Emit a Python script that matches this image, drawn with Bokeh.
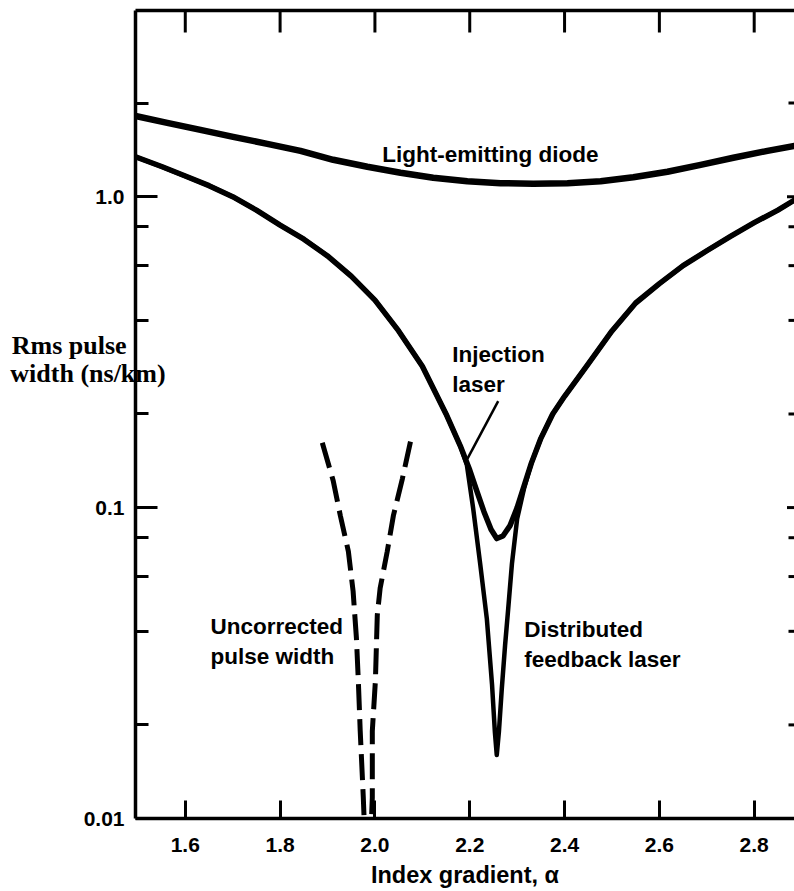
import math
from bokeh.plotting import figure
from bokeh.models import Range1d, FixedTicker, LinearAxis, NumeralTickFormatter
from bokeh.core.properties import value
from bokeh.embed import file_html
from bokeh.resources import INLINE

# ---------------- data ----------------
x_ticks = [1.6, 1.8, 2.0, 2.2, 2.4, 2.6, 2.8]
y_major = [0.01, 0.1, 1.0]
y_minor = [0.02, 0.04, 0.06, 0.08, 0.2, 0.4, 0.6, 0.8, 2.0]
y_labels = {0.01: "0.01", 0.1: "0.1", 1: "1.0"}

x_lo, x_hi = 1.495, 2.885
y_lo, y_hi = 0.01, 3.97

led_x = [1.495, 1.562, 1.632, 1.701, 1.773, 1.843, 1.912, 1.984, 2.054, 2.123, 2.195,
         2.265, 2.334, 2.406, 2.476, 2.545, 2.617, 2.687, 2.756, 2.828, 2.885]
led_y = [1.818, 1.727, 1.640, 1.557, 1.479, 1.404, 1.314, 1.248, 1.194, 1.151, 1.121,
         1.105, 1.101, 1.105, 1.121, 1.155, 1.203, 1.266, 1.334, 1.404, 1.457]

inj_x = [1.495, 1.55, 1.60, 1.65, 1.70, 1.75, 1.80, 1.85, 1.90, 1.95, 2.00, 2.05, 2.10,
         2.15, 2.18, 2.20, 2.215, 2.23, 2.245, 2.257, 2.27, 2.285, 2.30, 2.315, 2.33,
         2.35, 2.375, 2.40, 2.45, 2.50, 2.55, 2.60, 2.65, 2.70, 2.75, 2.80, 2.85, 2.885]
inj_y = [1.343, 1.25, 1.165, 1.085, 1.0, 0.905, 0.81, 0.73, 0.645, 0.555, 0.465, 0.37, 0.285,
         0.2, 0.158, 0.132, 0.113, 0.097, 0.085, 0.0795, 0.081, 0.0875, 0.1, 0.118, 0.139,
         0.167, 0.2, 0.228, 0.29, 0.37, 0.455, 0.525, 0.6, 0.67, 0.745, 0.825, 0.905, 0.975]

dfb_x = [1.495, 1.55, 1.60, 1.65, 1.70, 1.75, 1.80, 1.85, 1.90, 1.95, 2.00, 2.05, 2.10,
         2.15, 2.18, 2.194, 2.207, 2.222, 2.236, 2.247, 2.253, 2.257, 2.2615, 2.2675, 2.2745,
         2.281, 2.289, 2.30, 2.315, 2.33, 2.35, 2.375, 2.40, 2.45, 2.50, 2.55, 2.60, 2.65,
         2.70, 2.75, 2.80, 2.85, 2.885]
dfb_y = [1.343, 1.25, 1.165, 1.085, 1.0, 0.905, 0.81, 0.73, 0.645, 0.555, 0.465, 0.37, 0.285,
         0.2, 0.158, 0.137, 0.1, 0.066, 0.044, 0.027, 0.019, 0.016, 0.019, 0.026, 0.036,
         0.047, 0.066, 0.092, 0.116, 0.139, 0.167, 0.2, 0.228, 0.29, 0.37, 0.455, 0.525, 0.6,
         0.67, 0.745, 0.825, 0.905, 0.975]

unc_left_x = [1.889, 1.912, 1.927, 1.944, 1.954, 1.961, 1.965, 1.969, 1.9755, 1.978]
unc_left_y = [0.1616, 0.122, 0.0943, 0.0723, 0.0538, 0.038, 0.0277, 0.0191, 0.01168, 0.0093]
unc_right_x = [2.075, 2.058, 2.039, 2.026, 2.011, 2.005, 2.001, 1.9945, 1.9945, 1.992]
unc_right_y = [0.163, 0.124, 0.0943, 0.0723, 0.055, 0.0451, 0.0277, 0.0191, 0.01168, 0.0093]

note_text = ["Light-emitting diode", "Injection\nlaser", "Uncorrected\npulse width",
             "Distributed\nfeedback laser"]
note_x = [2.0156, 2.163, 1.653, 2.315]
note_y = [1.363, 0.279, 0.0372, 0.0362]

pointer_x0 = [2.260]
pointer_y0 = [0.220]
pointer_x1 = [2.195]
pointer_y1 = [0.1435]

y_title_lines = ["Rms pulse", "width (ns/km)"]
x_title = "Index gradient, α"

SANS = "Liberation Sans"
W, H = 794, 890

# ---------------- figure ----------------
p = figure(width=W, height=H,
           x_range=Range1d(x_lo, x_hi), y_range=Range1d(y_lo, y_hi),
           y_axis_type="log", output_backend="svg", toolbar_location=None,
           min_border_left=135, min_border_right=0, min_border_top=10, min_border_bottom=69)
p.background_fill_color = "white"
p.border_fill_color = "white"
p.outline_line_color = None
p.xgrid.visible = False
p.ygrid.visible = False

# bottom axis
xa = p.xaxis[0]
xa.ticker = FixedTicker(ticks=x_ticks, minor_ticks=[])
xa.formatter = NumeralTickFormatter(format="0.0")
xa.major_tick_in = 18
xa.major_tick_out = 0
xa.minor_tick_in = 0
xa.minor_tick_out = 0
xa.major_tick_line_width = 3
xa.axis_line_width = 3.5
xa.major_label_text_font = SANS
xa.major_label_text_font_size = "21px"
xa.major_label_text_font_style = "bold"
xa.major_label_text_color = "black"
xa.major_label_standoff = 19
xa.axis_label = x_title
xa.axis_label_text_font = SANS
xa.axis_label_text_font_size = "23.5px"
xa.axis_label_text_font_style = "bold"
xa.axis_label_text_color = "black"
xa.axis_label_standoff = 7

# left axis
ya = p.yaxis[0]
ya.ticker = FixedTicker(ticks=y_major, minor_ticks=y_minor)
ya.major_label_overrides = y_labels
ya.major_tick_in = 22
ya.major_tick_out = 0
ya.minor_tick_in = 13
ya.minor_tick_out = 0
ya.major_tick_line_width = 3
ya.minor_tick_line_width = 3
ya.axis_line_width = 3.5
ya.major_label_text_font = SANS
ya.major_label_text_font_size = "21px"
ya.major_label_text_font_style = "bold"
ya.major_label_text_color = "black"
ya.major_label_standoff = 11

# y title: horizontal, two left-aligned lines, lifted above the frame middle with
# trailing empty lines, pulled right so that it crosses the axis line as in the original
pad = "\u00a0" * 6
ya.axis_label = y_title_lines[0] + pad + "\n" + y_title_lines[1] + "\n\n\n\n"
ya.axis_label_orientation = "horizontal"
ya.axis_label_text_font = "Liberation Serif"
ya.axis_label_text_font_size = "26px"
ya.axis_label_text_font_style = "bold"
ya.axis_label_text_color = "black"
ya.axis_label_text_line_height = 0.95
ya.axis_label_standoff = -85

# top frame line (no ticks / labels on the axis itself)
ta = LinearAxis(ticker=FixedTicker(ticks=[], minor_ticks=[]),
                major_tick_in=0, major_tick_out=0, minor_tick_in=0, minor_tick_out=0,
                axis_line_width=3.5, major_label_standoff=0)
p.add_layout(ta, "above")

# top ticks and right ticks as dash markers sitting on the frame edge (outer half clipped)
p.scatter(x=x_ticks, y=[y_hi] * len(x_ticks), marker="dash", size=44, angle=math.pi / 2,
          line_color="black", line_width=3)
p.scatter(x=[x_hi] * len(y_major), y=y_major, marker="dash", size=15,
          line_color="black", line_width=3)
p.scatter(x=[x_hi] * len(y_minor), y=y_minor, marker="dash", size=12,
          line_color="black", line_width=3)

# curves
p.line(led_x, led_y, line_color="black", line_width=6.5, line_join="round", line_cap="round")
p.line(dfb_x, dfb_y, line_color="black", line_width=4.5, line_join="round", line_cap="round")
p.line(inj_x, inj_y, line_color="black", line_width=5.5, line_join="round", line_cap="round")
p.line(unc_left_x, unc_left_y, line_color="black", line_width=5, line_dash="26 9")
p.line(unc_right_x, unc_right_y, line_color="black", line_width=5, line_dash="26 9")

# pointer for injection laser
p.segment(x0=pointer_x0, y0=pointer_y0, x1=pointer_x1, y1=pointer_y1,
          line_color="black", line_width=2.5)

# annotations
p.text(x=note_x, y=note_y, text=note_text, text_font=value(SANS),
       text_font_size="22.5px", text_font_style="bold", text_color="black",
       text_align="left", text_baseline="middle", text_line_height=1.2)

open("out.html", "w").write(file_html(p, INLINE))
